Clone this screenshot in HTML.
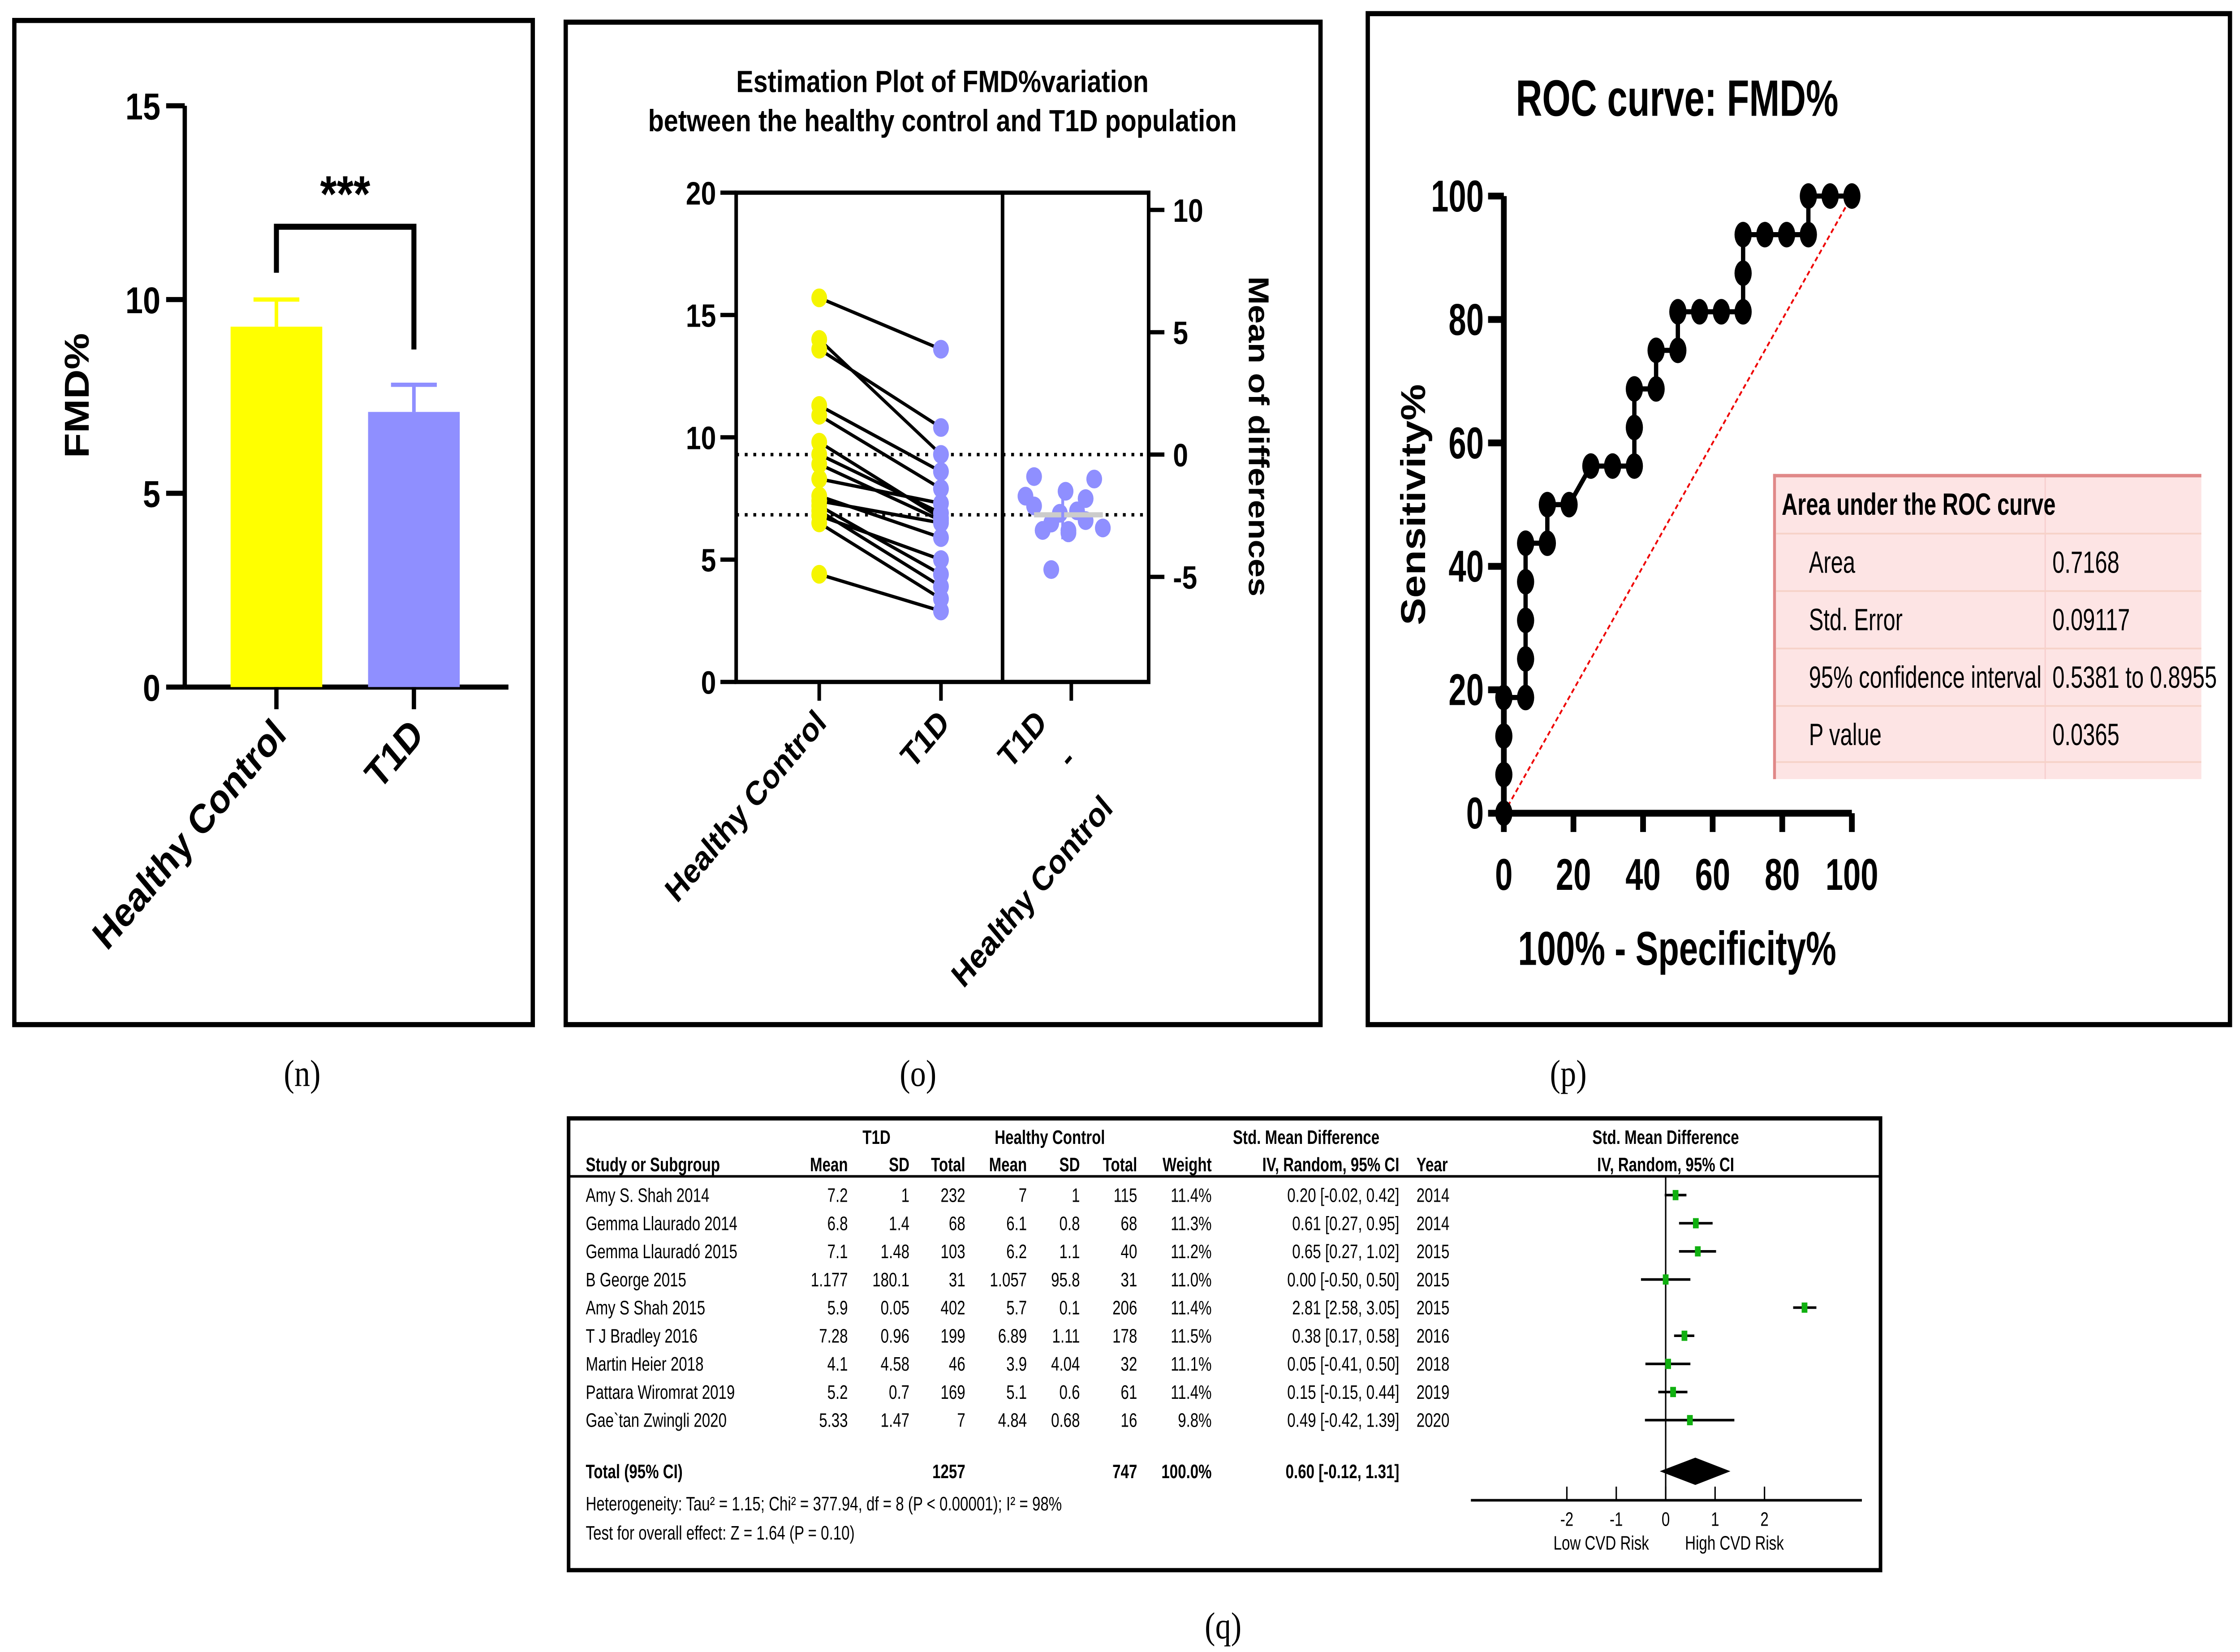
<!DOCTYPE html>
<html><head><meta charset="utf-8"><style>
html,body{margin:0;padding:0;background:#fff;overflow:hidden;width:100vw;height:100vh}
#root{display:block;width:100vw;height:100vh}
text{font-family:"Liberation Sans",sans-serif}
</style></head><body>
<svg id="root" viewBox="0 0 1564 969" preserveAspectRatio="none" xmlns="http://www.w3.org/2000/svg">
<rect width="1564" height="969" fill="#fff"/>
<g id="pn"></g>
<g id="po"></g>
<g id="pp"></g>
<g id="pq"></g>
<g font-size="22" text-anchor="middle">
<text x="211" y="637" style="font-family:'Liberation Serif',serif">(n)</text>
<text x="641" y="637" style="font-family:'Liberation Serif',serif">(o)</text>
<text x="1095" y="637" style="font-family:'Liberation Serif',serif">(p)</text>
<text x="854" y="961" style="font-family:'Liberation Serif',serif">(q)</text>
</g>
</svg>
<script>
const NS="http://www.w3.org/2000/svg";
function mk(p,t,a,txt){const e=document.createElementNS(NS,t);for(const k in a)e.setAttribute(k,a[k]);if(txt!==undefined)e.textContent=txt;p.appendChild(e);return e;}

// ---------- Panel n data ----------
const barCats=["Healthy Control","T1D"];
const barMeans=[9.3,7.1];
const barErr=[0.7,0.7];
const barTicks=[0,5,10,15];
// ---------- Panel o data ----------
const hcVals=[15.7,14.0,13.6,11.3,10.9,9.8,9.3,8.9,8.3,7.6,7.4,7.2,7.0,6.8,6.5,4.4];
const t1dVals=[13.6,9.3,10.4,8.6,7.9,6.7,6.9,6.6,7.3,5.9,6.5,4.4,3.9,5.0,3.4,2.9];
const estLeftTicks=[0,5,10,15,20];
const estRightTicks=[-5,0,5,10];
// ---------- Panel p data ----------
const rocX=[0,0,0,0,6.25,6.25,6.25,6.25,6.25,12.5,12.5,18.75,25,31.25,37.5,37.5,37.5,43.75,43.75,50,50,56.25,62.5,68.75,68.75,68.75,75,81.25,87.5,87.5,93.75,100];
const rocY=[0,6.25,12.5,18.75,18.75,25,31.25,37.5,43.75,43.75,50,50,56.25,56.25,56.25,62.5,68.75,68.75,75,75,81.25,81.25,81.25,81.25,87.5,93.75,93.75,93.75,93.75,100,100,100];
const rocTicks=[0,20,40,60,80,100];
const rocTable=[["Area","0.7168"],["Std. Error","0.09117"],["95% confidence interval","0.5381 to 0.8955"],["P value","0.0365"]];
// ---------- Panel q data ----------
const studies=["Amy S. Shah 2014","Gemma Llaurado 2014","Gemma Llauradó 2015","B George 2015","Amy S Shah 2015","T J Bradley 2016","Martin Heier 2018","Pattara Wiromrat 2019","Gae`tan Zwingli 2020"];
const t1dMean=["7.2","6.8","7.1","1.177","5.9","7.28","4.1","5.2","5.33"];
const t1dSD=["1","1.4","1.48","180.1","0.05","0.96","4.58","0.7","1.47"];
const t1dN=["232","68","103","31","402","199","46","169","7"];
const hcMean=["7","6.1","6.2","1.057","5.7","6.89","3.9","5.1","4.84"];
const hcSD=["1","0.8","1.1","95.8","0.1","1.11","4.04","0.6","0.68"];
const hcN=["115","68","40","31","206","178","32","61","16"];
const weights=["11.4%","11.3%","11.2%","11.0%","11.4%","11.5%","11.1%","11.4%","9.8%"];
const smd=[0.20,0.61,0.65,0.00,2.81,0.38,0.05,0.15,0.49];
const ciLo=[-0.02,0.27,0.27,-0.50,2.58,0.17,-0.41,-0.15,-0.42];
const ciHi=[0.42,0.95,1.02,0.50,3.05,0.58,0.50,0.44,1.39];
const years=["2014","2014","2015","2015","2015","2016","2018","2019","2020"];
const totalSMD=[0.60,-0.12,1.31];
const forestTicks=[-2,-1,0,1,2];

// ===== Panel n =====
(function(){
const g=document.getElementById('pn');
mk(g,'rect',{x:10,y:12,width:362,height:589,fill:'none',stroke:'#000','stroke-width':3});
const y=v=>403-v*22.73;
const xc=[193,289];
mk(g,'line',{x1:129,y1:y(15),x2:129,y2:403,stroke:'#000','stroke-width':3});
mk(g,'line',{x1:129,y1:403,x2:355,y2:403,stroke:'#000','stroke-width':3});
barTicks.forEach(t=>{
 const tk=mk(g,'line',{x1:116,y1:y(t),x2:129,y2:y(t),stroke:'#000','stroke-width':3});
 
 const l=mk(g,'text',{x:112,y:y(t)+8,'text-anchor':'end','font-size':22,'font-weight':'bold'},t);
 
});
const cols=['#ffff00','#8f8fff'];
barCats.forEach((c,i)=>{
 const b=mk(g,'rect',{x:xc[i]-32,y:y(barMeans[i]),width:64,height:403-y(barMeans[i]),fill:cols[i]});
 
 mk(g,'line',{x1:xc[i],y1:y(barMeans[i]),x2:xc[i],y2:y(barMeans[i]+barErr[i]),stroke:cols[i],'stroke-width':2.5});
 mk(g,'line',{x1:xc[i]-16,y1:y(barMeans[i]+barErr[i]),x2:xc[i]+16,y2:y(barMeans[i]+barErr[i]),stroke:cols[i],'stroke-width':2.5});
 mk(g,'line',{x1:xc[i],y1:403,x2:xc[i],y2:416,stroke:'#000','stroke-width':3});
 const l=mk(g,'text',{x:xc[i]+8,y:432,'text-anchor':'end','font-size':24,'font-weight':'bold',transform:`rotate(-45 ${xc[i]+8} 432)`},c);
 
});
mk(g,'path',{d:'M193 160 V133 H289 V205',fill:'none',stroke:'#000','stroke-width':3.5});
const s=mk(g,'text',{x:241,y:124,'text-anchor':'middle','font-size':30,'font-weight':'bold'},'***');

const yt=mk(g,'text',{x:62,y:232,'text-anchor':'middle','font-size':24,'font-weight':'bold',transform:'rotate(-90 62 232)'},'FMD%');

})();

// ===== Panel o =====
(function(){
const g=document.getElementById('po');
mk(g,'rect',{x:395,y:13,width:527,height:588,fill:'none',stroke:'#000','stroke-width':3});
const t1=mk(g,'text',{x:658,y:54,'text-anchor':'middle','font-size':18,'font-weight':'bold'},'Estimation Plot of FMD%variation');

mk(g,'text',{x:658,y:77,'text-anchor':'middle','font-size':18,'font-weight':'bold'},'between the healthy control and T1D population');
const y=v=>400-v*14.35;
const mHC=hcVals.reduce((a,b)=>a+b,0)/hcVals.length;
const mT=t1dVals.reduce((a,b)=>a+b,0)/t1dVals.length;
const y0=y(mHC);
const yr=d=>y0-d*14.35;
mk(g,'path',{d:'M514 113 H802 V400 H514 Z M700 113 V400',fill:'none',stroke:'#000','stroke-width':2.5});
estLeftTicks.forEach(t=>{
 mk(g,'line',{x1:503,y1:y(t),x2:514,y2:y(t),stroke:'#000','stroke-width':2.5});
 const l=mk(g,'text',{x:500,y:y(t)+7,'text-anchor':'end','font-size':19,'font-weight':'bold'},t);
 
});
estRightTicks.forEach(t=>{
 mk(g,'line',{x1:802,y1:yr(t),x2:813,y2:yr(t),stroke:'#000','stroke-width':2.5});
 const l=mk(g,'text',{x:819,y:yr(t)+7,'font-size':19,'font-weight':'bold'},t);
 
});
mk(g,'line',{x1:514,y1:y(mHC),x2:802,y2:y(mHC),stroke:'#000','stroke-width':2,'stroke-dasharray':'2 4'});
mk(g,'line',{x1:514,y1:y(mT),x2:802,y2:y(mT),stroke:'#000','stroke-width':2,'stroke-dasharray':'2 4'});
const xH=572,xT=657;
hcVals.forEach((v,i)=>{
 const ln=mk(g,'line',{x1:xH,y1:y(v),x2:xT,y2:y(t1dVals[i]),stroke:'#000','stroke-width':2});
 
});
hcVals.forEach((v,i)=>{
 const c=mk(g,'circle',{cx:xH,cy:y(v),r:5.5,fill:'#f5f500'});
 
 const c2=mk(g,'circle',{cx:xT,cy:y(t1dVals[i]),r:5.5,fill:'#8f8fff'});
 
});
const diffs=hcVals.map((v,i)=>t1dVals[i]-v);
const offs=[-20,-8,4,16,28,-14,-2,10,22,-26,-20,-8,4,16,-14,2];
diffs.forEach((d,i)=>{
 const c=mk(g,'circle',{cx:742+offs[i%offs.length],cy:yr(d),r:5.5,fill:'#8f8fff'});
 
});
const md=mT-mHC;
mk(g,'line',{x1:722,y1:yr(md),x2:770,y2:yr(md),stroke:'#ccc','stroke-width':3});
mk(g,'line',{x1:742,y1:yr(md-1.0),x2:742,y2:yr(md+1.0),stroke:'#8f8fff','stroke-width':2});
mk(g,'line',{x1:572,y1:400,x2:572,y2:411,stroke:'#000','stroke-width':2.5});
mk(g,'line',{x1:657,y1:400,x2:657,y2:411,stroke:'#000','stroke-width':2.5});
mk(g,'line',{x1:748,y1:400,x2:748,y2:411,stroke:'#000','stroke-width':2.5});
[["Healthy Control",578,425],["T1D",664,425],["T1D",732,425],["-",752,447],["Healthy Control",778,475]].forEach(a=>{
 const l=mk(g,'text',{x:a[1],y:a[2],'text-anchor':'end','font-size':20,'font-weight':'bold',transform:`rotate(-45 ${a[1]} ${a[2]})`},a[0]);
 
});
const rt=mk(g,'text',{x:872,y:256,'text-anchor':'middle','font-size':20,'font-weight':'bold',transform:'rotate(90 872 256)'},'Mean of differences');

})();

// ===== Panel p =====
(function(){
const g=document.getElementById('pp');
mk(g,'rect',{x:955,y:8,width:602,height:593,fill:'none',stroke:'#000','stroke-width':3});
const X=v=>1050+v*2.43, Y=v=>477-v*3.62;
const sx=(x,y)=>`translate(${x} ${y}) scale(0.85 1) translate(${-x} ${-y})`;
const t=mk(g,'text',{x:1171,y:68,'text-anchor':'middle','font-size':30,'font-weight':'bold',transform:sx(1171,68)},'ROC curve: FMD%');

mk(g,'line',{x1:1050,y1:Y(100),x2:1050,y2:Y(0),stroke:'#000','stroke-width':4});
mk(g,'line',{x1:1050,y1:Y(0),x2:X(100),y2:Y(0),stroke:'#000','stroke-width':4});
rocTicks.forEach(v=>{
 mk(g,'line',{x1:1039,y1:Y(v),x2:1050,y2:Y(v),stroke:'#000','stroke-width':4});
 mk(g,'line',{x1:X(v),y1:Y(0),x2:X(v),y2:Y(0)+11,stroke:'#000','stroke-width':4});
 const a=mk(g,'text',{x:1036,y:Y(v)+9,'text-anchor':'end','font-size':26,'font-weight':'bold',transform:sx(1036,Y(v))},v);
 
 const b=mk(g,'text',{x:X(v),y:522,'text-anchor':'middle','font-size':26,'font-weight':'bold',transform:sx(X(v),522)},v);
 
});
const d=mk(g,'line',{x1:X(0),y1:Y(0),x2:X(100),y2:Y(100),stroke:'#e00','stroke-width':1.2,'stroke-dasharray':'3 2'});

const pts=rocX.map((x,i)=>X(x)+','+Y(rocY[i])).join(' ');
const pl=mk(g,'polyline',{points:pts,fill:'none',stroke:'#000','stroke-width':3});

rocX.forEach((x,i)=>{
 const c=mk(g,'ellipse',{cx:X(x),cy:Y(rocY[i]),rx:6,ry:7.5,fill:'#000'});
 
});
const yt=mk(g,'text',{x:995,y:296,'text-anchor':'middle','font-size':24,'font-weight':'bold',transform:'rotate(-90 995 296)'},'Sensitivity%');

const xt=mk(g,'text',{x:1171,y:566,'text-anchor':'middle','font-size':28,'font-weight':'bold',transform:sx(1171,566)},'100% - Specificity%');

const tb=mk(g,'g',{});

mk(tb,'rect',{x:1238,y:278,width:299,height:179,fill:'#fde4e4'});
mk(tb,'line',{x1:1238,y1:279,x2:1537,y2:279,stroke:'#e08888','stroke-width':2});
mk(tb,'line',{x1:1239,y1:278,x2:1239,y2:457,stroke:'#e08888','stroke-width':2});
mk(tb,'line',{x1:1428,y1:280,x2:1428,y2:457,stroke:'#f8d0d0','stroke-width':1});
mk(tb,'text',{x:1244,y:302,'font-size':18,'font-weight':'bold',transform:sx(1244,302)},'Area under the ROC curve');
rocTable.forEach((r,i)=>{
 const yy=336+i*33.7;
 mk(tb,'line',{x1:1240,y1:yy-23,x2:1537,y2:yy-23,stroke:'#f6d2c8','stroke-width':1});
 mk(tb,'text',{x:1263,y:yy,'font-size':18,transform:sx(1263,yy)},r[0]);
 mk(tb,'text',{x:1433,y:yy,'font-size':18,transform:sx(1433,yy)},r[1]);
});
mk(tb,'line',{x1:1240,y1:447,x2:1537,y2:447,stroke:'#f6d2c8','stroke-width':1});
})();

// ===== Panel q =====
(function(){
const g=document.getElementById('pq');
mk(g,'rect',{x:397,y:656,width:916,height:265,fill:'none',stroke:'#000','stroke-width':2.5});
mk(g,'line',{x1:398,y1:690,x2:1312,y2:690,stroke:'#000','stroke-width':1.5});
const fs=11.5;
function T(x,y,s,anchor,bold,name){
 const a={x:x,y:y,'font-size':fs,'text-anchor':anchor||'start',transform:`translate(${x} ${y}) scale(0.9 1) translate(${-x} ${-y})`};
 if(bold)a['font-weight']='bold';
 const e=mk(g,'text',a,s);
 
 return e;
}
T(612,671,'T1D','middle',true,'group-header');
T(733,671,'Healthy Control','middle',true,'group-header');
T(912,671,'Std. Mean Difference','middle',true,'group-header');
T(1163,671,'Std. Mean Difference','middle',true,'group-header');
T(409,687,'Study or Subgroup','start',true,'column-header');
[['Mean',592],['SD',635],['Total',674],['Mean',717],['SD',754],['Total',794],['Weight',846],['IV, Random, 95% CI',977]].forEach(c=>T(c[1],687,c[0],'end',true,'column-header'));
T(989,687,'Year','start',true,'column-header');
T(1163,687,'IV, Random, 95% CI','middle',true,'column-header');
const X=v=>1163+v*34.5;
mk(g,'line',{x1:X(0),y1:690,x2:X(0),y2:880,stroke:'#000','stroke-width':1});
studies.forEach((s,i)=>{
 const yy=705+i*16.5;
 T(409,yy,s,'start',false,'study-name');
 [[t1dMean,592],[t1dSD,635],[t1dN,674],[hcMean,717],[hcSD,754],[hcN,794],[weights,846]].forEach(c=>T(c[1],yy,c[0][i],'end'));
 T(977,yy,smd[i].toFixed(2)+' ['+ciLo[i].toFixed(2)+', '+ciHi[i].toFixed(2)+']','end',false,'ci-text');
 T(989,yy,years[i],'start');
 const cy=yy-4;
 const ci=mk(g,'line',{x1:X(ciLo[i]),y1:cy,x2:X(ciHi[i]),y2:cy,stroke:'#000','stroke-width':1.5});
 
 const sq=mk(g,'rect',{x:X(smd[i])-2,y:cy-3,width:4,height:6,fill:'#10b010'});
 
});
T(409,867,'Total (95% CI)','start',true,'total-label');
T(674,867,'1257','end',true);T(794,867,'747','end',true);T(846,867,'100.0%','end',true);
T(977,867,totalSMD[0].toFixed(2)+' ['+totalSMD[1].toFixed(2)+', '+totalSMD[2].toFixed(2)+']','end',true,'total-ci');
const dy=863;
const dm=mk(g,'polygon',{points:`${X(totalSMD[1])},${dy} ${X(totalSMD[0])},${dy-8} ${X(totalSMD[2])},${dy} ${X(totalSMD[0])},${dy+8}`,fill:'#000'});

T(409,886,'Heterogeneity: Tau² = 1.15; Chi² = 377.94, df = 8 (P < 0.00001); I² = 98%','start',false,'heterogeneity-text');
T(409,903,'Test for overall effect: Z = 1.64 (P = 0.10)','start',false,'overall-effect-text');
mk(g,'line',{x1:1027,y1:880,x2:1300,y2:880,stroke:'#000','stroke-width':1.5});
forestTicks.forEach(t=>{
 mk(g,'line',{x1:X(t),y1:872,x2:X(t),y2:880,stroke:'#000','stroke-width':1});
 T(X(t),895,String(t),'middle',false,'forest-tick-label');
});
T(1118,909,'Low CVD Risk','middle',false,'favours-left');
T(1211,909,'High CVD Risk','middle',false,'favours-right');
})();
</script>
</body></html>
